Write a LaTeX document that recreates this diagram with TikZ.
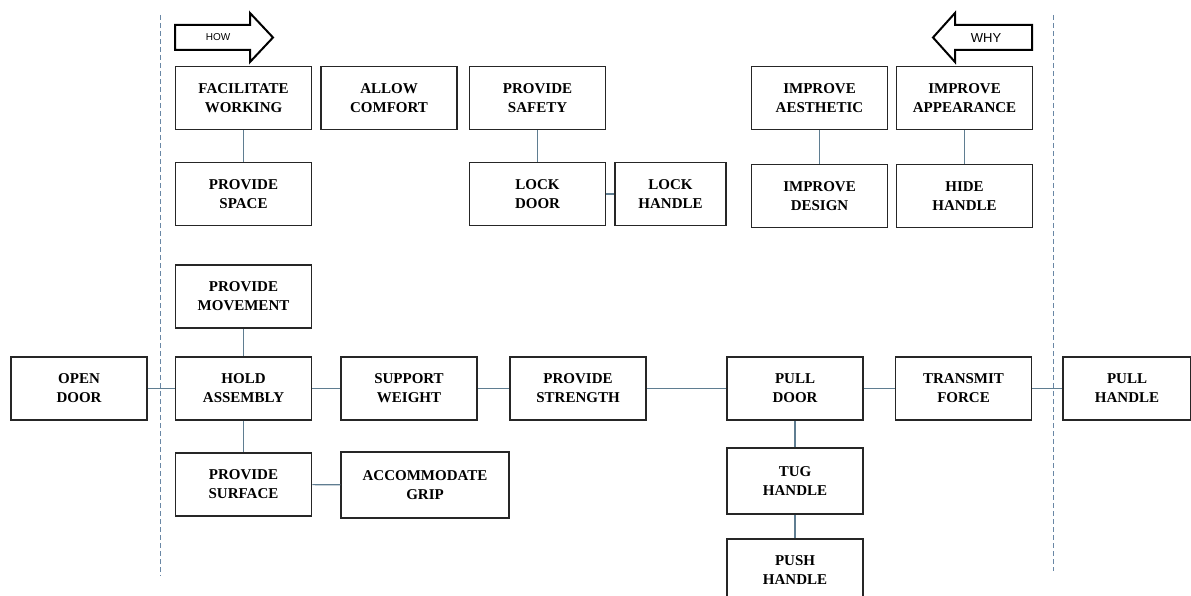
\documentclass[tikz,border=0pt]{standalone}
\usepackage{fontspec}
\setmainfont{Liberation Serif}
\setsansfont{Liberation Sans}
\definecolor{linkcol}{RGB}{95,125,145}
\definecolor{guidecol}{RGB}{105,135,165}

\begin{document}
\begin{tikzpicture}[
    x=1pt, y=-1pt,
    box/.style={rectangle, draw=black!85, line width=1.5pt, minimum width=136pt, minimum height=63pt,
        inner sep=0pt, align=center, font=\fontsize{15}{19}\selectfont\bfseries},
    link/.style={draw=linkcol, line width=1.1pt},
    guide/.style={draw=guidecol, line width=0.9pt, dash pattern=on 5pt off 3pt},
    bigarrow/.style={draw=black, line width=2pt, fill=white, line join=miter}
]
\clip (0,0) rectangle (1191,596);

% How / why arrows and the two guide lines
\draw[guide] (160,15) -- (160,576);
\draw[guide] (1053,15) -- (1053,571);
\draw[bigarrow] (175,25) -- (250,25) -- (250,13) -- (273,37.5) -- (250,62) -- (250,50) -- (175,50) -- cycle;
\node[font=\sffamily\fontsize{10}{12}\selectfont] (howlbl) at (218,37.5) {HOW};
\draw[bigarrow] (1032,25) -- (955,25) -- (955,13) -- (933,37.5) -- (955,62) -- (955,50) -- (1032,50) -- cycle;
\node[font=\sffamily\fontsize{13}{15}\selectfont] (whylbl) at (986,38.5) {WHY};

% Top rows
\node[box] (facil) at (243.5, 98) {FACILITATE\\WORKING};
\node[box] (comfort) at (389, 98) {ALLOW\\COMFORT};
\node[box] (safety) at (537.5, 98) {PROVIDE\\SAFETY};
\node[box] (aesthetic) at (819.5, 98) {IMPROVE\\AESTHETIC};
\node[box] (appearance) at (964.5, 98) {IMPROVE\\APPEARANCE};

\node[box] (space) at (243.5, 194) {PROVIDE\\SPACE};
\node[box] (lockdoor) at (537.5, 194) {LOCK\\DOOR};
\node[box, minimum width=111pt] (lockhandle) at (670.5, 194) {LOCK\\HANDLE};
\node[box] (design) at (819.5, 196) {IMPROVE\\DESIGN};
\node[box] (hide) at (964.5, 196) {HIDE\\HANDLE};

% Main path
\node[box] (movement) at (243.5, 296.5) {PROVIDE\\MOVEMENT};
\node[box] (opendoor) at (79, 388.5) {OPEN\\DOOR};
\node[box] (hold) at (243.5, 388.5) {HOLD\\ASSEMBLY};
\node[box] (support) at (409, 388.5) {SUPPORT\\WEIGHT};
\node[box] (strength) at (578, 388.5) {PROVIDE\\STRENGTH};
\node[box] (pulldoor) at (795, 388.5) {PULL\\DOOR};
\node[box] (transmit) at (963.5, 388.5) {TRANSMIT\\FORCE};
\node[box, minimum width=128pt] (pullhandle) at (1127, 388.5) {PULL\\HANDLE};

% Lower rows
\node[box] (surface) at (243.5, 484.5) {PROVIDE\\SURFACE};
\node[box, minimum width=168pt, minimum height=66pt] (grip) at (425, 485) {ACCOMMODATE\\GRIP};
\node[box, minimum height=66pt] (tug) at (795, 481) {TUG\\HANDLE};
\node[box] (push) at (795, 570.5) {PUSH\\HANDLE};

% Connectors
\draw[link] (facil) -- (space);
\draw[link] (safety) -- (lockdoor);
\draw[link] (lockdoor) -- (lockhandle);
\draw[link] (aesthetic) -- (design);
\draw[link] (appearance) -- (hide);
\draw[link] (movement) -- (hold);
\draw[link] (opendoor) -- (hold);
\draw[link] (hold) -- (support);
\draw[link] (support) -- (strength);
\draw[link] (strength) -- (pulldoor);
\draw[link] (pulldoor) -- (transmit);
\draw[link] (transmit) -- (pullhandle);
\draw[link] (hold) -- (surface);
\draw[link] (surface) -- (grip);
\draw[link] (pulldoor) -- (tug);
\draw[link] (tug) -- (push);

\end{tikzpicture}
\end{document}
